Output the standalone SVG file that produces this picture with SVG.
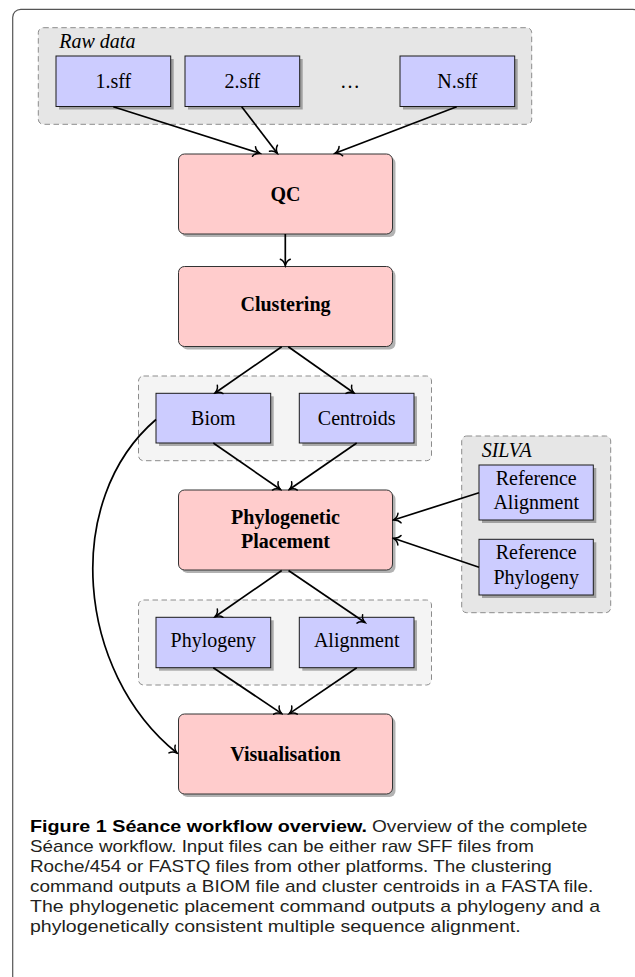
<svg xmlns="http://www.w3.org/2000/svg" width="635" height="977" viewBox="0 0 635 977">
<defs>
<marker id="arr" viewBox="-8 -7 10 14" refX="0" refY="0" markerWidth="10" markerHeight="14" markerUnits="userSpaceOnUse" orient="auto">
<path d="M -6.3,-5 C -5.2,-2.2 -1.8,-0.5 0,0 C -1.8,0.5 -5.2,2.2 -6.3,5" fill="none" stroke="#000" stroke-width="1.5" stroke-linecap="round"/>
</marker>
</defs>
<style>
.frame{fill:#fff;stroke:#555;stroke-width:1.2}
.grp{stroke:#8c8c8c;stroke-width:1;stroke-dasharray:5.5 3.5}
.g1{fill:#e6e6e6}
.g2{fill:#f4f4f4}
.sh{fill:#000;fill-opacity:0.3}
.blue{fill:#ccccff;stroke:#1a1a1a;stroke-width:1}
.pink{fill:#ffcccc;stroke:#333;stroke-width:1}
.t{font-family:"Liberation Serif","Times New Roman",serif;font-size:20px;fill:#000;text-anchor:middle}
.b{font-weight:bold}
.it{font-style:italic;text-anchor:start}
.edge{fill:none;stroke:#000;stroke-width:1.7;marker-end:url(#arr)}
.cap{font-family:"Liberation Sans",Arial,sans-serif;font-size:17px;fill:#231f20}
.capb{font-weight:bold;fill:#000}
</style>
<rect class="frame" x="12.7" y="9.3" width="628" height="1000" rx="8"/>

<g id="group-raw-data">
<rect class="grp g1" x="38.3" y="27.7" width="493.4" height="96.6" rx="5"/>
<text class="t it" x="59.3" y="48.3">Raw data</text>
</g>
<g id="group-clustering-output">
<rect class="grp g2" x="138.5" y="376" width="293" height="84.7" rx="5"/>
</g>
<g id="group-placement-output">
<rect class="grp g2" x="138.5" y="600" width="293" height="85" rx="5"/>
</g>
<g id="group-silva">
<rect class="grp g1" x="461.7" y="436" width="149" height="176.7" rx="5"/>
<text class="t it" x="481.7" y="456.7">SILVA</text>
</g>

<g id="node-1sff">
<rect class="sh" x="59" y="59" width="114.7" height="50.5"/>
<rect class="blue" x="56" y="56" width="114.7" height="50.5"/>
<text class="t" x="113.3" y="88.3">1.sff</text>
</g>
<g id="node-2sff">
<rect class="sh" x="188" y="59" width="114.7" height="50.5"/>
<rect class="blue" x="185" y="56" width="114.7" height="50.5"/>
<text class="t" x="242.3" y="88.3">2.sff</text>
</g>
<g id="node-dots">
<text class="t" x="350" y="88.3">…</text>
</g>
<g id="node-nsff">
<rect class="sh" x="403" y="59" width="114.7" height="50.5"/>
<rect class="blue" x="400" y="56" width="114.7" height="50.5"/>
<text class="t" x="457.3" y="88.3">N.sff</text>
</g>

<g id="node-qc">
<rect class="sh" x="181.5" y="157" width="214" height="80" rx="6"/>
<rect class="pink" x="178.5" y="154" width="214" height="80" rx="6"/>
<text class="t b" x="285.5" y="200.5">QC</text>
</g>
<g id="node-clustering">
<rect class="sh" x="181.5" y="269.5" width="214" height="80" rx="6"/>
<rect class="pink" x="178.5" y="266.5" width="214" height="80" rx="6"/>
<text class="t b" x="285.5" y="311">Clustering</text>
</g>

<g id="node-biom">
<rect class="sh" x="159" y="396.3" width="114.7" height="49.7"/>
<rect class="blue" x="156" y="393.3" width="114.7" height="49.7"/>
<text class="t" x="213.3" y="425">Biom</text>
</g>
<g id="node-centroids">
<rect class="sh" x="302.3" y="396.3" width="114.7" height="49.7"/>
<rect class="blue" x="299.3" y="393.3" width="114.7" height="49.7"/>
<text class="t" x="356.7" y="425">Centroids</text>
</g>

<g id="node-placement">
<rect class="sh" x="181.5" y="493" width="214" height="80" rx="6"/>
<rect class="pink" x="178.5" y="490" width="214" height="80" rx="6"/>
<text class="t b" x="285.5" y="523.5">Phylogenetic</text>
<text class="t b" x="285.5" y="547.5">Placement</text>
</g>

<g id="node-ref-alignment">
<rect class="sh" x="482" y="468" width="114.3" height="55"/>
<rect class="blue" x="479" y="465" width="114.3" height="55"/>
<text class="t" x="536.2" y="485">Reference</text>
<text class="t" x="536.2" y="509.3">Alignment</text>
</g>
<g id="node-ref-phylogeny">
<rect class="sh" x="482" y="542.3" width="114.3" height="55.7"/>
<rect class="blue" x="479" y="539.3" width="114.3" height="55.7"/>
<text class="t" x="536.2" y="559.3">Reference</text>
<text class="t" x="536.2" y="584">Phylogeny</text>
</g>

<g id="node-phylogeny">
<rect class="sh" x="159" y="620.3" width="114.7" height="50.4"/>
<rect class="blue" x="156" y="617.3" width="114.7" height="50.4"/>
<text class="t" x="213.3" y="647">Phylogeny</text>
</g>
<g id="node-alignment">
<rect class="sh" x="302.3" y="620.3" width="114.7" height="50.4"/>
<rect class="blue" x="299.3" y="617.3" width="114.7" height="50.4"/>
<text class="t" x="356.7" y="647">Alignment</text>
</g>

<g id="node-visualisation">
<rect class="sh" x="181.5" y="717" width="214" height="80" rx="6"/>
<rect class="pink" x="178.5" y="714" width="214" height="80" rx="6"/>
<text class="t b" x="285.5" y="760.5">Visualisation</text>
</g>

<g id="connectors">
<path class="edge" d="M113.3,106.7 L260,153.3"/>
<path class="edge" d="M241.7,106.7 L277.3,153.3"/>
<path class="edge" d="M456.7,106.7 L335,153.3"/>
<path class="edge" d="M285.3,234 L285.3,265.5"/>
<path class="edge" d="M281.7,346.7 L215,393"/>
<path class="edge" d="M288.3,346.7 L354,393"/>
<path class="edge" d="M213.3,443 L280.5,489.5"/>
<path class="edge" d="M356.7,443 L289.3,489.5"/>
<path class="edge" d="M479,492.7 L393.5,520"/>
<path class="edge" d="M479,567.3 L393.5,538.3"/>
<path class="edge" d="M281.7,570.5 L215,616.8"/>
<path class="edge" d="M288.5,570.5 L365,622.5"/>
<path class="edge" d="M213.3,667.7 L281.7,713.6"/>
<path class="edge" d="M356.7,667.7 L289.3,713.6"/>
<path class="edge" d="M156,419.5 C62,500 76,672 177,753"/>
</g>

<g id="caption">
<text class="cap capb" x="30" y="832" textLength="337" lengthAdjust="spacingAndGlyphs">Figure 1 Séance workflow overview.</text>
<text class="cap" x="372" y="832" textLength="215.3" lengthAdjust="spacingAndGlyphs">Overview of the complete</text>
<text class="cap" x="30" y="852" textLength="504" lengthAdjust="spacingAndGlyphs">Séance workflow. Input files can be either raw SFF files from</text>
<text class="cap" x="30" y="872" textLength="521.7" lengthAdjust="spacingAndGlyphs">Roche/454 or FASTQ files from other platforms. The clustering</text>
<text class="cap" x="30" y="892" textLength="563.3" lengthAdjust="spacingAndGlyphs">command outputs a BIOM file and cluster centroids in a FASTA file.</text>
<text class="cap" x="30" y="912" textLength="570" lengthAdjust="spacingAndGlyphs">The phylogenetic placement command outputs a phylogeny and a</text>
<text class="cap" x="30" y="932" textLength="490.7" lengthAdjust="spacingAndGlyphs">phylogenetically consistent multiple sequence alignment.</text>
</g>
</svg>
